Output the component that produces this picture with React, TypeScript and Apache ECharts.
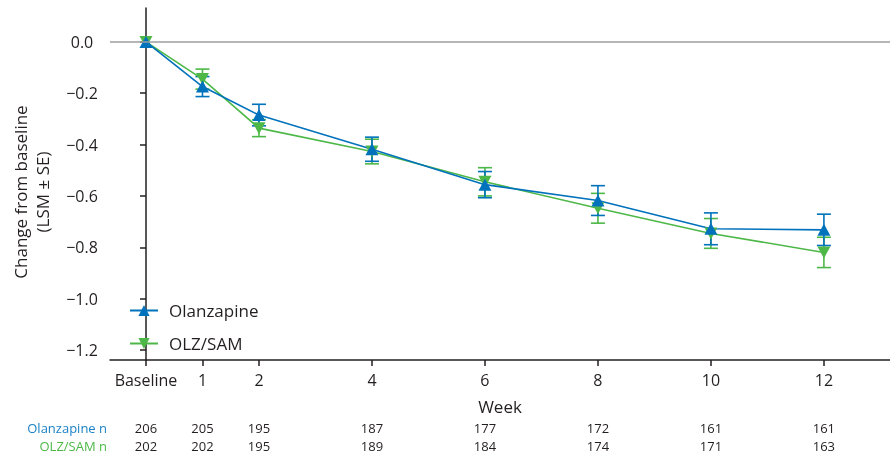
import React, { useEffect, useRef } from "react";
import * as echarts from "echarts";

const weeks = [0, 1, 2, 4, 6, 8, 10, 12];
const weekLabels = ["Baseline", "1", "2", "4", "6", "8", "10", "12"];
const olzMean = [0, -0.174, -0.285, -0.418, -0.556, -0.618, -0.728, -0.732];
const olzSE = [0, 0.039, 0.042, 0.047, 0.051, 0.058, 0.062, 0.061];
const samMean = [0, -0.145, -0.336, -0.427, -0.545, -0.648, -0.746, -0.82];
const samSE = [0, 0.039, 0.033, 0.048, 0.055, 0.058, 0.058, 0.059];
const olzN = [206, 205, 195, 187, 177, 172, 161, 161];
const samN = [202, 202, 195, 189, 184, 174, 171, 163];
const yTicks = [0, -0.2, -0.4, -0.6, -0.8, -1.0, -1.2];

const BLUE = "#0072BC";
const GREEN = "#4DB848";
const TXT = "#231F20";
const FONT = "Open Sans";

const fmtY = (v: number) =>
  v < 0 ? "\u2212" + Math.abs(v).toFixed(1) : Math.abs(v).toFixed(1);

export default function App() {
  const ref = useRef<HTMLDivElement>(null);
  useEffect(() => {
    const chart = echarts.init(ref.current!, undefined, { renderer: "svg" });
    const errData = (mean: number[], se: number[]) =>
      weeks.map((w, i) => [w, mean[i] - se[i], mean[i] + se[i]]);
    const errSeries = (name: string, mean: number[], se: number[], color: string, extra: any = {}) => ({
      type: "custom",
      name: name + " SE",
      xAxisIndex: 0,
      yAxisIndex: 0,
      data: errData(mean, se),
      renderItem: (params: any, api: any) => {
        const x = api.value(0);
        const lo = api.coord([x, api.value(1)]);
        const hi = api.coord([x, api.value(2)]);
        if (Math.abs(lo[1] - hi[1]) < 1) return { type: "group", children: [] };
        const hw = 7;
        const st = { stroke: color, lineWidth: 1.6 };
        return {
          type: "group",
          children: [
            { type: "line", shape: { x1: lo[0], y1: lo[1], x2: hi[0], y2: hi[1] }, style: st },
            { type: "line", shape: { x1: lo[0] - hw, y1: lo[1], x2: lo[0] + hw, y2: lo[1] }, style: st },
            { type: "line", shape: { x1: hi[0] - hw, y1: hi[1], x2: hi[0] + hw, y2: hi[1] }, style: st },
          ],
        };
      },
      ...extra,
    });
    const nAxis = (name: string, vals: number[], color: string, offset: number) => ({
      type: "value",
      gridIndex: 0,
      position: "bottom",
      offset,
      min: -0.637,
      max: 13.17,
      name,
      nameLocation: "start",
      nameGap: 3,
      nameTextStyle: { color, fontSize: 13, fontFamily: FONT, verticalAlign: "middle" },
      axisLine: { show: false, onZero: false },
      axisTick: { show: false },
      splitLine: { show: false },
      axisLabel: {
        customValues: weeks,
        formatter: (v: number) => String(vals[weeks.indexOf(v)]),
        color: TXT,
        fontSize: 13,
        fontFamily: FONT,
        margin: 0,
        verticalAlign: "middle",
      },
    });
    chart.setOption({
      animation: false,
      grid: { left: 110, right: 0, top: 8, bottom: 104, containLabel: false, outerBoundsMode: "none" },
      legend: {
        data: ["Olanzapine", "OLZ/SAM"],
        orient: "vertical",
        left: 124,
        top: 297,
        itemWidth: 28,
        itemHeight: 14,
        itemGap: 16,
        textStyle: { color: TXT, fontSize: 17, fontFamily: FONT, padding: [0, 0, 0, 6] },
      },
      graphic: [
        {
          type: "text",
          x: 31,
          y: 192,
          rotation: Math.PI / 2,
          style: {
            text: "Change from baseline\n(LSM \u00B1 SE)",
            textAlign: "center",
            textVerticalAlign: "middle",
            fill: TXT,
            fontSize: 17,
            fontFamily: FONT,
            lineHeight: 22,
          },
        },
      ],
      xAxis: [
        {
          type: "value",
          min: -0.637,
          max: 13.17,
          name: "Week",
          nameLocation: "middle",
          nameGap: 38,
          nameTextStyle: { color: TXT, fontSize: 17, fontFamily: FONT },
          axisLine: { show: true, onZero: false, lineStyle: { color: TXT, width: 1.5 } },
          axisTick: { show: true, customValues: weeks, length: 6, lineStyle: { color: TXT, width: 1.5 } },
          splitLine: { show: false },
          axisLabel: {
            customValues: weeks,
            formatter: (v: number) => weekLabels[weeks.indexOf(v)],
            color: TXT,
            fontSize: 16,
            fontFamily: FONT,
            margin: 12,
          },
        },
        nAxis("Olanzapine n", olzN, "#1B82C5", 68),
        nAxis("OLZ/SAM n", samN, "#4DB848", 86),
      ],
      yAxis: {
        type: "value",
        min: -1.239,
        max: 0.132,
        axisLine: { show: true, lineStyle: { color: TXT, width: 1.5 } },
        axisTick: { show: true, customValues: yTicks, length: 6, lineStyle: { color: TXT, width: 1.5 } },
        splitLine: { show: false },
        axisLabel: {
          customValues: yTicks,
          formatter: fmtY,
          color: TXT,
          fontSize: 16,
          fontFamily: FONT,
          align: "center",
          margin: 28,
        },
      },
      series: [
        errSeries("OLZ/SAM", samMean, samSE, GREEN, {
          markLine: {
            silent: true,
            symbol: "none",
            label: { show: false },
            lineStyle: { color: "#9E9E9E", width: 1.5, type: "solid" },
            data: [{ yAxis: 0 }],
          },
        }),
        {
          type: "line",
          name: "OLZ/SAM",
          data: weeks.map((w, i) => [w, samMean[i]]),
          color: GREEN,
          lineStyle: { color: GREEN, width: 1.6 },
          symbol: "path://M0,0 L10,0 L5,9 Z",
          symbolSize: [13, 12],
          itemStyle: { color: GREEN },
        },
        errSeries("Olanzapine", olzMean, olzSE, BLUE),
        {
          type: "line",
          name: "Olanzapine",
          data: weeks.map((w, i) => [w, olzMean[i]]),
          color: BLUE,
          lineStyle: { color: BLUE, width: 1.6 },
          symbol: "triangle",
          symbolSize: [13, 12],
          itemStyle: { color: BLUE },
        },
      ],
    });
    return () => chart.dispose();
  }, []);
  return (
    <div
      ref={ref}
      style={{ position: "fixed", left: 0, top: 0, width: 890, height: 464 }}
    />
  );
}
